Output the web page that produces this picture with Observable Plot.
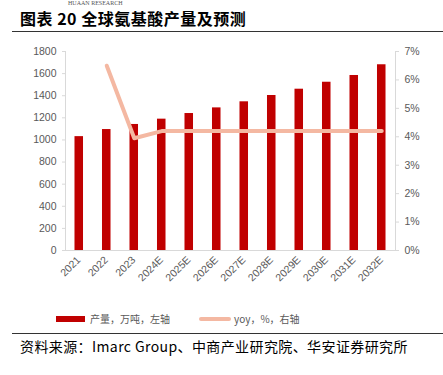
<!DOCTYPE html>
<html><head><meta charset="utf-8">
<script src="https://cdn.jsdelivr.net/npm/d3@7"></script>
<script src="https://cdn.jsdelivr.net/npm/@observablehq/plot@0.6"></script>
<style>
body{margin:0;background:#fff;font-family:"Liberation Sans",Arial,sans-serif;}
#wrap{position:relative;width:443px;height:375px;overflow:hidden;}
.abs{position:absolute;white-space:nowrap;}
</style></head>
<body><div id="wrap">
<div class="abs" style="left:68px;top:0px;font-size:6px;line-height:6px;color:#555;font-family:'Liberation Serif',serif;">HUAAN RESEARCH</div>
<div class="abs" style="left:20px;top:6px;font-size:16px;font-weight:bold;color:#000;font-family:'Noto Sans CJK SC',sans-serif;letter-spacing:0.5px;">图表 20 全球氨基酸产量及预测</div>
<div class="abs" style="left:12px;top:31px;width:431px;height:1px;background:#333;"></div>
<div id="chart" class="abs" style="left:0;top:40px;"></div>
<div class="abs" style="left:56px;top:316px;width:29px;height:6px;background:#C00000;"></div>
<div class="abs" id="leg1" style="left:90px;top:311px;font-size:10px;color:#595959;font-family:'Noto Sans CJK SC',sans-serif;"></div>
<div class="abs" style="left:199px;top:317px;width:32px;height:4px;background:#F4B8A2;border-radius:2px;"></div>
<div class="abs" id="leg2" style="left:234px;top:311px;font-size:10px;color:#595959;font-family:'Noto Sans CJK SC',sans-serif;"></div>
<div class="abs" style="left:12px;top:333px;width:431px;height:1px;background:#333;"></div>
<div class="abs" id="src" style="left:20px;top:336px;font-size:14px;color:#000;font-family:'Noto Sans CJK SC',sans-serif;letter-spacing:0.4px;"></div>
</div>
<script>
const years = ["2021","2022","2023","2024E","2025E","2026E","2027E","2028E","2029E","2030E","2031E","2032E"];
const output = [1030,1094,1140,1188,1239,1290,1345,1402,1459,1522,1583,1680];
const yoyYears = ["2022","2023","2024E","2025E","2026E","2027E","2028E","2029E","2030E","2031E","2032E"];
const yoy = [6.5,3.95,4.2,4.2,4.2,4.2,4.2,4.2,4.2,4.2,4.2];
const leftTicks = [0,200,400,600,800,1000,1200,1400,1600,1800];
const rightTicks = [0,1,2,3,4,5,6,7];
const legend1 = "产量，万吨，左轴";
const legend2 = "yoy，%，右轴";
const source = "资料来源：Imarc Group、中商产业研究院、华安证券研究所";

const yMax = 1800, rMax = 7;
const bars = years.map((y,i)=>({year:y, v:output[i]}));
const line = yoyYears.map((y,i)=>({year:y, v:yoy[i]*yMax/rMax}));

document.getElementById("leg1").textContent = legend1;
document.getElementById("leg2").textContent = legend2;
document.getElementById("src").textContent = source;

const chart = Plot.plot({
  width: 443, height: 290,
  marginLeft: 65, marginRight: 48, marginTop: 11, marginBottom: 80,
  style: {fontFamily: "'Liberation Sans', Arial, sans-serif", fontSize: "10.5px", color: "#595959", background: "transparent"},
  x: {type: "band", domain: years, paddingInner: 0.69, paddingOuter: 0.345, round: false, axis: null},
  y: {domain: [0, yMax], axis: null},
  marks: [
    Plot.frame({anchor: "left", stroke: "#D9D9D9"}),
    Plot.frame({anchor: "right", stroke: "#D9D9D9"}),
    Plot.barY(bars, {x: "year", y: "v", fill: "#C00000"}),
    Plot.line(line, {x: "year", y: "v", stroke: "#F4B8A2", strokeWidth: 4, strokeLinecap: "round", strokeLinejoin: "round"}),
    Plot.axisY({anchor: "left", ticks: leftTicks, tickFormat: d => String(d), tickSize: 3, tickPadding: 6, label: null, stroke: "#D9D9D9", fill: "#595959"}),
    Plot.axisY({anchor: "right", ticks: rightTicks.map(k=>k*yMax/rMax), tickFormat: d => Math.round(d*rMax/yMax)+"%", tickSize: 3, tickPadding: 6, label: null, stroke: "#D9D9D9", fill: "#595959"}),
    Plot.text(years, {x: d => d, frameAnchor: "bottom", dy: 10, dx: 2, rotate: -45, textAnchor: "end", fill: "#595959", fontSize: 10.5}),
    Plot.ruleY([0], {stroke: "#D9D9D9"})
  ]
});
document.getElementById("chart").appendChild(chart);
</script>
</body></html>
